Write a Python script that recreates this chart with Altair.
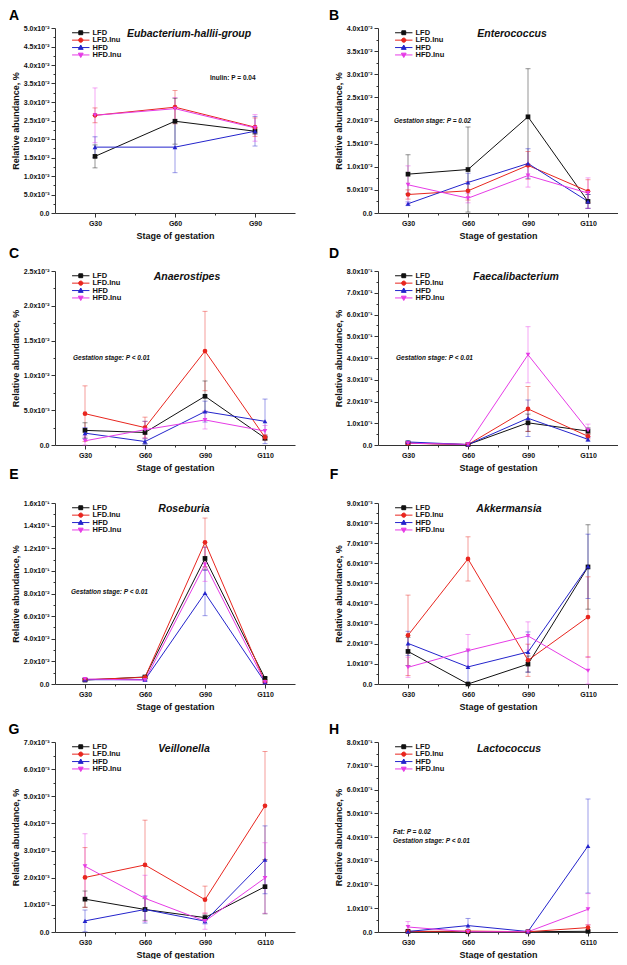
import altair as alt
import pandas as pd

FONT = "Liberation Sans"
SERIES = ["LFD", "LFD.Inu", "HFD", "HFD.Inu"]
COLORS = ["#111111", "#e8261f", "#2424cc", "#e63be6"]
SHAPES = ["square", "circle", "triangle-up", "triangle-down"]
LEGEND_SHAPES = [
    "M-2.9,0H2.9M-0.65,-0.65H0.65V0.65H-0.65Z",
    "M-2.9,0H2.9M0.7,0A0.7,0.7,0,1,1,-0.7,0A0.7,0.7,0,1,1,0.7,0Z",
    "M-2.9,0H2.9M0,-0.85L0.8,0.6H-0.8Z",
    "M-2.9,0H2.9M0,0.85L0.8,-0.6H-0.8Z",
]

STAGES_3 = ["G30", "G60", "G90"]
STAGES_4 = ["G30", "G60", "G90", "G110"]

# ---- A: Eubacterium-hallii-group ----
A_LFD = [0.0153, 0.0248, 0.0221]
A_LFD_INU = [0.0264, 0.0286, 0.0232]
A_HFD = [0.0178, 0.0178, 0.0221]
A_HFD_INU = [0.0264, 0.0282, 0.0230]
A_SE_LFD = [0.0031, 0.0062, 0.0008]
A_SE_LFD_INU = [0.0020, 0.0045, 0.0025]
A_SE_HFD = [0.0028, 0.0069, 0.0040]
A_SE_HFD_INU = [0.0074, 0.0030, 0.0036]

# ---- B: Enterococcus ----
B_LFD = [0.0084, 0.0094, 0.0208, 0.0025]
B_LFD_INU = [0.0040, 0.0048, 0.0103, 0.0047]
B_HFD = [0.0020, 0.0066, 0.0107, 0.0025]
B_HFD_INU = [0.0061, 0.0032, 0.0081, 0.0043]
B_SE_LFD = [0.0042, 0.0092, 0.0104, 0.0015]
B_SE_LFD_INU = [0.0010, 0.0020, 0.0030, 0.0025]
B_SE_HFD = [0.0004, 0.0020, 0.0032, 0.0015]
B_SE_HFD_INU = [0.0041, 0.0010, 0.0025, 0.0033]

# ---- C: Anaerostipes ----
C_LFD = [0.0021, 0.0018, 0.0070, 0.0010]
C_LFD_INU = [0.0045, 0.0025, 0.0135, 0.0011]
C_HFD = [0.0017, 0.0005, 0.0048, 0.0034]
C_HFD_INU = [0.0006, 0.0022, 0.0036, 0.0020]
C_SE_LFD = [0.0011, 0.0016, 0.0022, 0.0003]
C_SE_LFD_INU = [0.0040, 0.0015, 0.0057, 0.0004]
C_SE_HFD = [0.0008, 0.0004, 0.0015, 0.0032]
C_SE_HFD_INU = [0.0007, 0.0012, 0.0013, 0.0008]

# ---- D: Faecalibacterium ----
D_LFD = [0.009, 0.002, 0.102, 0.064]
D_LFD_INU = [0.008, 0.002, 0.166, 0.040]
D_HFD = [0.014, 0.002, 0.123, 0.026]
D_HFD_INU = [0.008, 0.003, 0.415, 0.068]
D_SE_LFD = [0.004, 0.001, 0.040, 0.015]
D_SE_LFD_INU = [0.004, 0.001, 0.103, 0.012]
D_SE_HFD = [0.005, 0.001, 0.084, 0.008]
D_SE_HFD_INU = [0.004, 0.001, 0.129, 0.028]

# ---- E: Roseburia ----
E_LFD = [0.0035, 0.0062, 0.1110, 0.0050]
E_LFD_INU = [0.0038, 0.0059, 0.1252, 0.0018]
E_HFD = [0.0038, 0.0038, 0.0804, 0.0015]
E_HFD_INU = [0.0044, 0.0035, 0.1057, 0.0018]
E_SE_LFD = [0.0010, 0.0010, 0.0100, 0.0010]
E_SE_LFD_INU = [0.0010, 0.0010, 0.0215, 0.0008]
E_SE_HFD = [0.0010, 0.0010, 0.0200, 0.0005]
E_SE_HFD_INU = [0.0010, 0.0010, 0.0150, 0.0008]

# ---- F: Akkermansia ----
F_LFD = [0.00162, 0.0, 0.00099, 0.00582]
F_LFD_INU = [0.00242, 0.00622, 0.00118, 0.00333]
F_HFD = [0.00202, 0.00085, 0.00159, 0.00585]
F_HFD_INU = [0.00083, 0.00166, 0.00239, 0.00066]
F_SE_LFD = [0.0007, 0.0, 0.0004, 0.0021]
F_SE_LFD_INU = [0.0020, 0.0011, 0.0008, 0.0020]
F_SE_HFD = [0.0006, 0.0008, 0.0010, 0.0016]
F_SE_HFD_INU = [0.0005, 0.0008, 0.0007, 0.0007]

# ---- G: Veillonella ----
G_LFD = [0.00121, 0.00083, 0.00053, 0.00167]
G_LFD_INU = [0.00201, 0.00247, 0.00119, 0.00465]
G_HFD = [0.00041, 0.00083, 0.00040, 0.00266]
G_HFD_INU = [0.00242, 0.00124, 0.00040, 0.00199]
G_SE_LFD = [0.0003, 0.0004, 0.0001, 0.0010]
G_SE_LFD_INU = [0.0011, 0.00165, 0.0005, 0.0020]
G_SE_HFD = [0.0004, 0.0005, 0.0001, 0.00125]
G_SE_HFD_INU = [0.0012, 0.00085, 0.0003, 0.0013]

# ---- H: Lactococcus ----
H_LFD = [0.003, 0.001, 0.001, 0.003]
H_LFD_INU = [0.002, 0.004, 0.001, 0.0185]
H_HFD = [0.002, 0.027, 0.002, 0.362]
H_HFD_INU = [0.021, 0.001, 0.001, 0.0956]
H_SE_LFD = [0.002, 0.001, 0.001, 0.002]
H_SE_LFD_INU = [0.001, 0.002, 0.001, 0.012]
H_SE_HFD = [0.001, 0.030, 0.001, 0.198]
H_SE_HFD_INU = [0.023, 0.001, 0.001, 0.066]

GENUS = ["Eubacterium-hallii-group", "Enterococcus", "Anaerostipes", "Faecalibacterium",
         "Roseburia", "Akkermansia", "Veillonella", "Lactococcus"]
LETTERS = ["A", "B", "C", "D", "E", "F", "G", "H"]
Y_MAX = [0.05, 0.04, 0.025, 0.8, 0.16, 0.009, 0.007, 0.8]
Y_STEP = [0.005, 0.005, 0.005, 0.1, 0.02, 0.001, 0.001, 0.1]
NOTES = [["Inulin: P = 0.04"], ["Gestation stage: P = 0.02"], ["Gestation stage: P < 0.01"],
         ["Gestation stage: P < 0.01"], ["Gestation stage: P < 0.01"], [], [],
         ["Fat: P = 0.02", "Gestation stage: P < 0.01"]]

MEANS = [
    [A_LFD, A_LFD_INU, A_HFD, A_HFD_INU], [B_LFD, B_LFD_INU, B_HFD, B_HFD_INU],
    [C_LFD, C_LFD_INU, C_HFD, C_HFD_INU], [D_LFD, D_LFD_INU, D_HFD, D_HFD_INU],
    [E_LFD, E_LFD_INU, E_HFD, E_HFD_INU], [F_LFD, F_LFD_INU, F_HFD, F_HFD_INU],
    [G_LFD, G_LFD_INU, G_HFD, G_HFD_INU], [H_LFD, H_LFD_INU, H_HFD, H_HFD_INU],
]
SES = [
    [A_SE_LFD, A_SE_LFD_INU, A_SE_HFD, A_SE_HFD_INU], [B_SE_LFD, B_SE_LFD_INU, B_SE_HFD, B_SE_HFD_INU],
    [C_SE_LFD, C_SE_LFD_INU, C_SE_HFD, C_SE_HFD_INU], [D_SE_LFD, D_SE_LFD_INU, D_SE_HFD, D_SE_HFD_INU],
    [E_SE_LFD, E_SE_LFD_INU, E_SE_HFD, E_SE_HFD_INU], [F_SE_LFD, F_SE_LFD_INU, F_SE_HFD, F_SE_HFD_INU],
    [G_SE_LFD, G_SE_LFD_INU, G_SE_HFD, G_SE_HFD_INU], [H_SE_LFD, H_SE_LFD_INU, H_SE_HFD, H_SE_HFD_INU],
]

# layout (pixels, relative to each plot area)
W = 240
ROW_H = [185, 174, 181, 190]
TITLE_POS = [(134, 6), (134, 6), (132, 6), (138, 6), (129, 6), (131, 6), (129, 7), (131, 7)]
LETTER_POS = [(-41, -12), (-44, -12), (-41, -17), (-44, -17), (-41, -28), (-44, -28), (-41, -12), (-44, -12)]
NOTE_POS = [(155, 50), (16, 93), (18, 87), (18, 87), (16, 89), (0, 0), (0, 0), (15, 90)]
LEGEND_ROW = 7.4

color_scale = alt.Scale(domain=SERIES, range=COLORS)


def y_axis(step, ymax):
    n = int(round(ymax / step))
    vals = [round(i * step, 10) for i in range(n + 1)]
    e = "floor(log(datum.value)/LN10 + 1e-9)"
    expr = (f"datum.value < 1e-12 ? '0.0' : "
            f"format(datum.value / pow(10, {e}), '.1f') + 'x10' + "
            f"({e} == -1 ? '⁻¹' : {e} == -2 ? '⁻²' : {e} == -3 ? '⁻³' : '⁻⁴')")
    return alt.Axis(values=vals, labelExpr=expr, title="Relative abundance, %", orient="left",
                    tickSize=4, labelOverlap=False, labelBound=False, labelFlush=False,
                    minExtent=32, maxExtent=32, titlePadding=3, labelPadding=2, grid=False)


def y_minor_axis(step, ymax):
    n = int(round(ymax / step))
    vals = [round((i + 0.5) * step, 10) for i in range(n)]
    return alt.Axis(values=vals, labels=False, domain=False, tickSize=2, title=None,
                    orient="left", grid=False, minExtent=0, maxExtent=0)


def x_axis(stages):
    n = len(stages)
    vals = [i * 0.5 for i in range(2 * n - 1)]
    arr = "[" + ",".join(f"'{s}'" for s in stages) + "]"
    return alt.Axis(values=vals, title="Stage of gestation",
                    labelExpr=f"datum.value % 1 == 0 ? {arr}[datum.value] : ''",
                    tickSize={"condition": {"test": "datum.value % 1 == 0", "value": 4}, "value": 2},
                    labelOverlap=False, labelFlush=False,
                    labelPadding=2, titlePadding=5, grid=False)


def legend_layer(s):
    name = SERIES[s]
    leg = alt.Legend(orient="none", legendX=22, legendY=1 + LEGEND_ROW * s, title=None,
                     labelFontSize=7.5, labelFontWeight="bold", labelFont=FONT, labelColor="#111",
                     symbolSize=36, symbolType=LEGEND_SHAPES[s], symbolStrokeColor=COLORS[s],
                     symbolFillColor=COLORS[s], symbolStrokeWidth=1, symbolOpacity=1,
                     labelOffset=8, padding=0)
    return alt.Chart(pd.DataFrame({"series": [name]})).mark_point(
        filled=True, opacity=0, stroke=COLORS[s], strokeWidth=1).encode(
        fill=alt.Fill("series:N", scale=alt.Scale(domain=[name], range=[COLORS[s]]), legend=leg))


def panel(i):
    stages = STAGES_3 if i == 0 else STAGES_4
    rows = []
    for s, name in enumerate(SERIES):
        for k, st in enumerate(stages):
            m = MEANS[i][s][k]
            se = SES[i][s][k]
            rows.append({"series": name, "order": s, "x": k, "mean": m,
                         "lo": max(0.0, m - se), "hi": m + se})
    df = pd.DataFrame(rows)
    n = len(stages)
    xs = alt.Scale(domain=[-0.5, n - 0.5], nice=False, zero=False)
    ys = alt.Scale(domain=[0, Y_MAX[i]], nice=False, zero=True)
    X = alt.X("x:Q", scale=xs, axis=x_axis(stages))
    base = alt.Chart(df)
    col = alt.Color("series:N", scale=color_scale, legend=None)

    err = base.mark_rule(strokeWidth=1, opacity=0.45).encode(
        x=X, y=alt.Y("lo:Q", scale=ys, axis=y_axis(Y_STEP[i], Y_MAX[i])), y2="hi:Q", color=col)
    caps = base.transform_fold(["lo", "hi"], as_=["end", "val"]).mark_tick(
        size=5, thickness=1, orient="horizontal", opacity=0.45).encode(
        x=X, y=alt.Y("val:Q", scale=ys, axis=None), color=col)
    lines = base.mark_line(strokeWidth=1).encode(
        x=X, y=alt.Y("mean:Q", scale=ys, axis=None), color=col, detail="series:N")
    pts = [
        base.transform_filter(alt.datum.series == name).mark_point(
            filled=True, size=22, opacity=1, shape=SHAPES[s]).encode(
            x=X, y=alt.Y("mean:Q", scale=ys, axis=None), color=col)
        for s, name in enumerate(SERIES)
    ]
    minor = alt.Chart(pd.DataFrame({"v": [0.0]})).mark_point(opacity=0).encode(
        y=alt.Y("v:Q", scale=ys, axis=y_minor_axis(Y_STEP[i], Y_MAX[i])))
    legs = [legend_layer(s) for s in range(4)]

    one = pd.DataFrame({"a": [0]})
    tx, ty = TITLE_POS[i]
    title = alt.Chart(one).mark_text(font=FONT, fontSize=10.5, fontWeight="bold", fontStyle="italic",
                                     align="center", baseline="middle", color="#111").encode(
        x=alt.value(tx), y=alt.value(ty), text=alt.value(GENUS[i]))
    lx, ly = LETTER_POS[i]
    letter = alt.Chart(one).mark_text(font=FONT, fontSize=14, fontWeight="bold",
                                      align="center", baseline="middle", color="#000").encode(
        x=alt.value(lx), y=alt.value(ly), text=alt.value(LETTERS[i]))
    layers = [err, caps, lines] + pts + [minor] + legs + [title, letter]
    nx, ny = NOTE_POS[i]
    for j, note in enumerate(NOTES[i]):
        style = "normal" if i == 0 else "italic"
        layers.append(alt.Chart(one).mark_text(font=FONT, fontSize=6.5, fontWeight="bold",
                                               fontStyle=style, align="left", baseline="middle",
                                               color="#111").encode(
            x=alt.value(nx), y=alt.value(ny + 9 * j), text=alt.value(note)))
    return alt.layer(*layers).resolve_scale(fill="independent").resolve_axis(
        y="independent").properties(width=W, height=ROW_H[i // 2])


chart = alt.concat(*[panel(i) for i in range(8)], columns=2,
                   spacing={"row": 58, "column": 83}, bounds="flush").properties(
    padding={"left": 0, "top": 1, "right": 0, "bottom": 0}
).configure_view(stroke=None).configure_axis(
    labelFont=FONT, labelFontSize=7, labelFontWeight="bold", labelColor="#111",
    titleFont=FONT, titleFontSize=9, titleFontWeight="bold", titleColor="#111",
    domainColor="#333", tickColor="#333", domainWidth=1, tickWidth=1, labelOverlap=False
)

chart.save("out.html", embed_options={"renderer": "svg", "actions": False})
